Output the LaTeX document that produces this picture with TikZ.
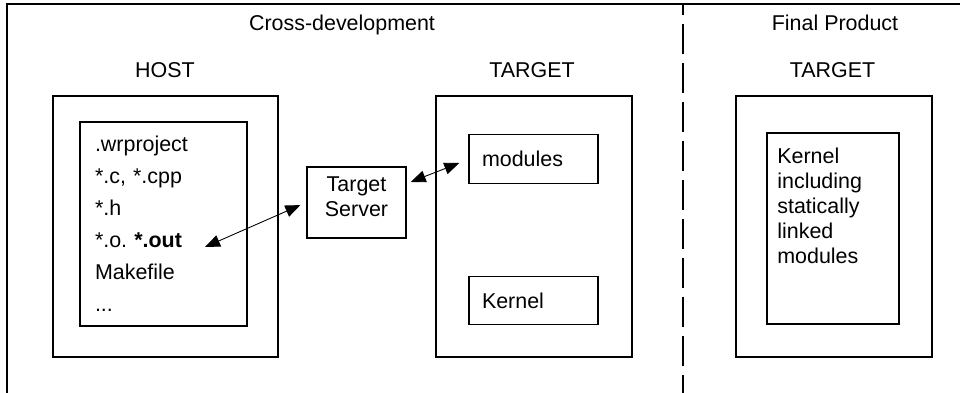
\documentclass[tikz,border=0pt]{standalone}
\usepackage{fontspec}
\setmainfont{Liberation Sans}
\usetikzlibrary{arrows.meta}
\frenchspacing

\begin{document}
\begin{tikzpicture}[
  every node/.style={font=\fontsize{12.2}{14.2}\selectfont},
  outerbox/.style={draw, line width=0.8pt, minimum width=3.92cm, minimum height=5.22cm},
  innerbox/.style={draw, line width=0.8pt, inner xsep=0.26cm, text width=2.06cm, align=left, minimum height=0.97cm},
  heading/.style={anchor=base},
  link/.style={{Triangle[length=0.3cm, width=0.24cm]}-{Triangle[length=0.3cm, width=0.24cm]}, line width=0.5pt}
]
  \useasboundingbox (0,0) rectangle (19.2,7.86);

  % border, and the split between development and product
  \draw[line width=0.8pt] (0.14,0) |- (19.2,7.78);
  \draw[line width=1pt, dash pattern=on 0.6cm off 0.18cm, dash phase=0.38cm] (13.66,7.78) -- (13.66,0);

  \node[heading] (crossdev) at (6.84,7.24) {Cross-development};
  \node[heading] (finalprod) at (16.70,7.24) {Final Product};
  \node[heading] (hostlabel) at (3.30,6.30) {HOST};
  \node[heading] (targetlabel) at (10.64,6.30) {TARGET};
  \node[heading] (prodlabel) at (16.65,6.30) {TARGET};

  % host with its project files ({} keeps \\ from eating the *)
  \node[outerbox, minimum width=4.5cm] (host) at (3.31,3.33) {};
  \node[draw, line width=0.8pt, minimum width=3.34cm, minimum height=4.08cm, inner xsep=0.3cm, text width=2.74cm, align=left,
    font=\fontsize{12.2}{18.2}\selectfont] (files) at (3.27,3.38)
    {.wrproject\\{}*.c, *.cpp\\{}*.h\\{}*.o. \textbf{*.out}\\Makefile\\...};
  \coordinate (outfile) at (4.10,2.92);

  \node[draw, line width=0.8pt, minimum width=1.98cm, minimum height=1.42cm, align=center, text depth=0.24cm] (server) at (7.13,3.81) {Target\\Server};

  % target during development
  \node[outerbox] (target) at (10.68,3.33) {};
  \node[innerbox] (modules) at (10.67,4.68) {modules};
  \node[innerbox] (kernel) at (10.67,1.85) {Kernel};

  % target in the final product
  \node[outerbox] (product) at (16.68,3.33) {};
  \node[draw, line width=0.8pt, minimum width=2.64cm, minimum height=3.82cm] (fullkernel) at (16.66,3.29) {};
  \node[anchor=north west, inner sep=0pt, align=left] (fullkerneltext) at (15.54,4.91)
    {Kernel\\including\\statically\\linked\\modules};

  \draw[link, shorten >=0.13cm] (outfile) -- (server.west);
  \draw[link] ([xshift=0.08cm, yshift=0.41cm]server.east) -- ([xshift=-0.18cm, yshift=-0.08cm]modules.west);
\end{tikzpicture}
\end{document}
